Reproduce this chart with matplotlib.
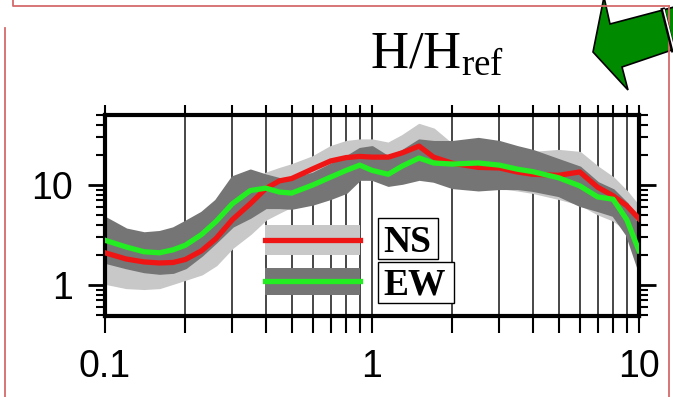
import matplotlib.pyplot as plt
from matplotlib.patches import Polygon, Rectangle
from matplotlib.ticker import FixedLocator, LogLocator, NullFormatter

plt.rcParams['font.family'] = 'Liberation Sans'
plt.rcParams['mathtext.fontset'] = 'custom'
plt.rcParams['mathtext.rm'] = 'Liberation Serif'

# spectral ratio H/Href, mean and +/- 1 std bands for both components
freq = [0.1, 0.12, 0.14, 0.16, 0.18, 0.2, 0.23, 0.26, 0.3, 0.35, 0.4, 0.45,
        0.5, 0.6, 0.7, 0.8, 0.9, 1.0, 1.15, 1.3, 1.5, 1.7, 2.0, 2.5, 3.0,
        3.5, 4.0, 5.0, 6.0, 7.0, 8.0, 9.0, 10.0]

ns_mean = [2.1, 1.82, 1.7, 1.66, 1.68, 1.8, 2.2, 2.9, 4.5, 6.5, 9.2, 11,
           11.6, 14.5, 17.4, 18.8, 19.3, 19, 19, 21, 24.5, 19, 16.5, 15,
           14.8, 13.5, 12.8, 12.5, 13.5, 9.5, 7.8, 6.2, 4.6]
ns_lo = [1.05, 0.95, 0.93, 0.95, 1.05, 1.15, 1.3, 1.6, 2.4, 3.3, 4.6, 5.4,
         6.2, 7.5, 9, 11, 12, 11.5, 12, 13, 14, 12, 11, 10, 9.5, 9, 8.5,
         7.4, 6.5, 5.2, 4.5, 3.6, 3.5]
ns_hi = [4.0, 3.2, 3.0, 3.0, 3.1, 3.4, 4.0, 5.5, 8.5, 10.5, 13, 14.5, 15.8,
         19, 24, 27, 28, 28, 26, 31, 40, 36, 25, 24, 22, 21, 21, 22, 21, 15,
         11.7, 8.5, 6]

ew_mean = [2.8, 2.4, 2.15, 2.1, 2.25, 2.5, 3.2, 4.3, 6.5, 8.8, 9.3, 8.5,
           8.3, 10, 12, 14, 15.8, 14, 12.8, 15.5, 18.6, 16.6, 16.2, 16.6,
           15.8, 14.4, 13.6, 11.8, 9.8, 7.6, 7.2, 4.5, 2.2]
ew_lo = [1.7, 1.5, 1.37, 1.32, 1.35, 1.5, 2.0, 2.7, 3.9, 4.8, 6, 6, 5.9,
         6.5, 7.4, 8.5, 11.5, 11.5, 10, 10.5, 11.5, 11, 9.5, 9, 9.3, 9.3,
         8.9, 7.9, 6.3, 5.6, 5, 3.2, 1.4]
ew_hi = [4.7, 3.6, 3.3, 3.4, 3.7, 4.3, 5.3, 7.0, 12, 14, 12.5, 11.5, 11.5,
         13, 16, 19, 23, 24, 19, 22, 28, 27, 27, 29, 27, 24, 22, 17.8, 15,
         10.5, 8.9, 6.5, 3.6]

xticks = [0.1, 1, 10]
xlabels = ['0.1', '1', '10']
yticks = [1, 10]
ylabels = ['1', '10']

RED = '#f01515'
GREEN = '#22ee22'
LIGHT = '#c8c8c8'
DARK = '#757575'
FRAME = '#d46a6a'

fig = plt.figure(figsize=(6.73, 3.97), dpi=100)

# slide decorations in pixel coordinates
deco = fig.add_axes([0, 0, 1, 1])
deco.set_xlim(0, 673)
deco.set_ylim(397, 0)
deco.axis('off')
deco.plot([13, 13, 669], [0, 6, 6], color=FRAME, lw=1.3)
deco.plot([669, 669], [6, 397], color=FRAME, lw=1.3)
deco.plot([5, 5], [28, 397], color=FRAME, lw=1.3)
arrow = Polygon([(593, 52), (604, -3), (610, 24), (663, 10), (700, 0),
                 (700, 40), (672, 50), (622, 67), (628, 90)],
                closed=True, fc='#008a00', ec='black', lw=1.2)
deco.add_patch(arrow)
deco.plot([663, 673], [10, 50], color='black', lw=3.2)
deco.plot([664, 674], [10, 50], color='white', lw=1.2)
deco.text(437, 68, r'$\mathrm{H/H_{ref}}$', fontsize=38, ha='center',
          va='baseline')

ax = fig.add_axes([105 / 673, 1 - 316 / 397, 534 / 673, 201 / 397])
ax.set_xscale('log')
ax.set_yscale('log')
ax.set_xlim(0.1, 10)
ax.set_ylim(10 ** -0.31, 10 ** 1.70)
ax.set_axisbelow(True)

ax.fill_between(freq, ns_lo, ns_hi, color=LIGHT, ec=LIGHT, lw=2,
                joinstyle='round', zorder=1)
ax.fill_between(freq, ew_lo, ew_hi, color=DARK, ec=DARK, lw=2,
                joinstyle='round', zorder=2)
ax.plot(freq, ns_mean, color=RED, lw=3.8, solid_joinstyle='round', zorder=3)
ax.plot(freq, ew_mean, color=GREEN, lw=3.8, solid_joinstyle='round', zorder=4)

ax.set_xticks(xticks, xlabels)
ax.xaxis.set_minor_locator(LogLocator(base=10, subs=range(2, 10)))
ax.xaxis.set_minor_formatter(NullFormatter())
ax.set_yticks(yticks, ylabels)
ax.yaxis.set_minor_locator(LogLocator(base=10, subs=range(2, 10)))
ax.yaxis.set_minor_formatter(NullFormatter())
ax.grid(True, which='both', axis='x', color='#151515', lw=1.1)
ax.grid(False, axis='y', which='both')

ax.tick_params(axis='x', which='both', direction='out', length=12, width=1.5,
               bottom=True, top=False, pad=12, labelsize=27)
ax.tick_params(axis='y', which='major', direction='out', length=12, width=2,
               left=True, right=True, pad=11, labelsize=27)
ax.tick_params(axis='y', which='minor', direction='out', length=6.5,
               width=1.5, left=True, right=True)
for sp in ax.spines.values():
    sp.set_linewidth(3)

top = ax.secondary_xaxis('top')
top.xaxis.set_major_locator(FixedLocator(xticks))
top.xaxis.set_minor_locator(LogLocator(base=10, subs=range(2, 10)))
top.xaxis.set_minor_formatter(NullFormatter())
top.tick_params(which='both', direction='out', length=7, width=1.5,
                labeltop=False)
top.spines['top'].set_visible(False)

# legend swatches and labels
ax.add_patch(Rectangle((0.2996, 0.3035), 0.178, 0.149, transform=ax.transAxes,
                       fc=LIGHT, ec='none', zorder=6))
ax.plot([0.2996, 0.4775], [0.378, 0.378], transform=ax.transAxes,
        color=RED, lw=3.8, zorder=7)
ax.add_patch(Rectangle((0.2996, 0.1045), 0.178, 0.134, transform=ax.transAxes,
                       fc=DARK, ec='none', zorder=6))
ax.plot([0.2996, 0.4775], [0.174, 0.174], transform=ax.transAxes,
        color=GREEN, lw=3.8, zorder=7)

ax.add_patch(Rectangle((0.511, 0.2836), 0.1126, 0.204, transform=ax.transAxes,
                       fc='white', ec='black', lw=1, zorder=6))
ax.add_patch(Rectangle((0.511, 0.0647), 0.1426, 0.204, transform=ax.transAxes,
                       fc='white', ec='black', lw=1, zorder=6))
ax.text(0.5665, 0.318, 'NS', transform=ax.transAxes, fontsize=27,
        family='Liberation Serif', weight='bold', ha='center', va='baseline',
        zorder=7)
ax.text(0.5805, 0.1045, 'EW', transform=ax.transAxes, fontsize=27,
        family='Liberation Serif', weight='bold', ha='center', va='baseline',
        zorder=7)

fig.savefig('out.png', dpi=100)
